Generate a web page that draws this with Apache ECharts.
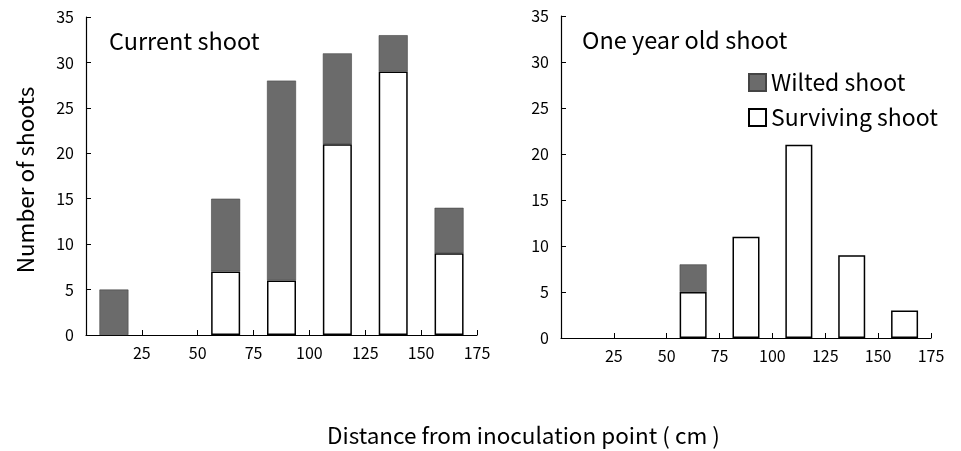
<!DOCTYPE html>
<html>
<head>
<meta charset="utf-8">
<script src="https://cdn.jsdelivr.net/npm/echarts@6/dist/echarts.min.js"></script>
<style>
html,body{margin:0;padding:0;background:#fff;}
#c{width:961px;height:451px;}
</style>
</head>
<body>
<div id="c"></div>
<script>
// Distance bins of 25 cm (bin labels used by the band axis)
var bins = ['0-25', '25-50', '50-75', '75-100', '100-125', '125-150', '150-175'];
var xTicks = [0, 25, 50, 75, 100, 125, 150, 175];
var yTicks = [0, 5, 10, 15, 20, 25, 30, 35];

// Current shoot
var currentSurviving = [0, 0, 7, 6, 21, 29, 9];
var currentWilted    = [5, 0, 8, 22, 10, 4, 5];

// One year old shoot
var oneYearSurviving = [0, 0, 5, 11, 21, 9, 3];
var oneYearWilted    = [0, 0, 3, 0, 0, 0, 0];

var panelTitles = ['Current shoot', 'One year old shoot'];
var seriesNames = ['Wilted shoot', 'Surviving shoot'];
var yAxisTitle = 'Number of shoots';
var xAxisTitle = 'Distance from inoculation point ( cm )';

var FONT = "'Noto Sans CJK JP', 'Liberation Sans', sans-serif";
var WILT = '#6b6b6b';

function noZero(arr) { return arr.map(function (v) { return v === 0 ? '-' : v; }); }

function bandAxis(gi) {
  return {
    type: 'category', gridIndex: gi, data: bins, boundaryGap: true, position: 'bottom',
    axisLine: { show: false }, axisTick: { show: false }, axisLabel: { show: false },
    splitLine: { show: false }
  };
}
function valueXAxis(gi) {
  return {
    type: 'value', gridIndex: gi, min: xTicks[0], max: xTicks[xTicks.length - 1], interval: 25,
    position: 'bottom',
    splitLine: { show: false },
    axisLine: { lineStyle: { color: '#000', width: 1.2 } },
    axisTick: { inside: true, length: 5, lineStyle: { color: '#000' } },
    axisLabel: {
      color: '#000', fontSize: 16, fontFamily: FONT, margin: 10,
      formatter: function (v) { return v === 0 ? '' : String(v); }
    }
  };
}
function yAxis(gi) {
  return {
    type: 'value', gridIndex: gi, min: yTicks[0], max: yTicks[yTicks.length - 1], interval: 5,
    splitLine: { show: false },
    axisLine: { show: true, lineStyle: { color: '#000', width: 1.2 } },
    axisTick: { show: true, inside: true, length: 5, lineStyle: { color: '#000' } },
    axisLabel: { color: '#000', fontSize: 16, fontFamily: FONT, margin: 12 }
  };
}

var chart = echarts.init(document.getElementById('c'), null, { renderer: 'canvas' });
chart.setOption({
  animation: false,
  backgroundColor: '#fff',
  grid: [
    { left: 86, top: 17, width: 391, height: 318 },
    { left: 561, top: 16, width: 370, height: 322 }
  ],
  // 0,1: band axes (bars); 2,3: value axes (ticks/labels)
  xAxis: [bandAxis(0), bandAxis(1), valueXAxis(0), valueXAxis(1)],
  yAxis: [yAxis(0), yAxis(1)],
  legend: {
    orient: 'vertical', left: 743, top: 66, itemWidth: 17, itemHeight: 17, itemGap: 12,
    icon: 'rect',
    data: [seriesNames[0], seriesNames[1]],
    textStyle: { color: '#000', fontSize: 23, fontFamily: FONT },
    selectedMode: false
  },
  graphic: [
    { type: 'text', x: 109, y: 41, style: { text: panelTitles[0], fontSize: 23.5, fontFamily: FONT, fill: '#000', verticalAlign: 'middle' } },
    { type: 'text', x: 582, y: 40, style: { text: panelTitles[1], fontSize: 23.5, fontFamily: FONT, fill: '#000', verticalAlign: 'middle' } },
    { type: 'text', x: 25, y: 180, rotation: Math.PI / 2,
      style: { text: yAxisTitle, fontSize: 22.5, fontFamily: FONT, fill: '#000', align: 'center', verticalAlign: 'middle' } },
    { type: 'text', x: 327, y: 435,
      style: { text: xAxisTitle, fontSize: 22.5, fontFamily: FONT, fill: '#000', align: 'left', verticalAlign: 'middle' } }
  ],
  series: [
    { name: seriesNames[1], type: 'bar', xAxisIndex: 0, yAxisIndex: 0, stack: 'a', barWidth: 29,
      data: noZero(currentSurviving),
      itemStyle: { color: '#fff', borderColor: '#000', borderWidth: 1.5 } },
    { name: seriesNames[0], type: 'bar', xAxisIndex: 0, yAxisIndex: 0, stack: 'a', barWidth: 29,
      data: noZero(currentWilted),
      itemStyle: { color: WILT, borderColor: '#444', borderWidth: 0.6 } },
    { name: seriesNames[1], type: 'bar', xAxisIndex: 1, yAxisIndex: 1, stack: 'b', barWidth: 27,
      data: noZero(oneYearSurviving),
      itemStyle: { color: '#fff', borderColor: '#000', borderWidth: 1.5 } },
    { name: seriesNames[0], type: 'bar', xAxisIndex: 1, yAxisIndex: 1, stack: 'b', barWidth: 27,
      data: noZero(oneYearWilted),
      itemStyle: { color: WILT, borderColor: '#444', borderWidth: 0.6 } }
  ]
});
</script>
</body>
</html>
